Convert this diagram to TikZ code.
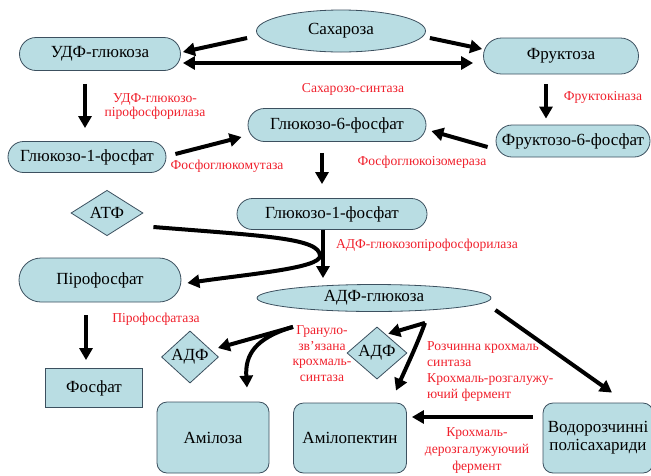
\documentclass[tikz,border=0pt]{standalone}
\usepackage{fontspec}
\setmainfont{Liberation Serif}
\newfontfamily\tnr{Liberation Serif}
\usetikzlibrary{arrows.meta,shapes.geometric,shapes.misc,calc}
\definecolor{nfill}{RGB}{185,221,227}
\definecolor{nline}{RGB}{60,80,95}
\definecolor{lred}{RGB}{240,32,44}
\begin{document}
\begin{tikzpicture}[x=1pt,y=-1pt,
  box/.style={draw=nline,fill=nfill,line width=0.8pt,font=\tnr\fontsize{17}{18}\selectfont,inner sep=0pt},
  pill/.style={box,rounded rectangle},
  oval/.style={box,ellipse},
  dia/.style={box,diamond},
  rbox/.style={box,rectangle,rounded corners=10pt},
  lab/.style={text=lred,font=\tnr\fontsize{13.6}{15.5}\selectfont,inner sep=0pt,align=center},
  arr/.style={line width=4pt,-{Triangle[length=12pt,width=13pt]}},
  arrb/.style={line width=4pt,{Triangle[length=12pt,width=13pt]}-{Triangle[length=12pt,width=13pt]}},
]
\useasboundingbox (0,0) rectangle (651,475);
\clip (0,0) rectangle (651,475);

% nodes
\node[oval,minimum width=169pt,minimum height=42pt] (sah) at (341,31) {Сахароза};
\node[pill,minimum width=161pt,minimum height=33pt] (udf) at (100,54) {УДФ-глюкоза};
\node[pill,minimum width=155pt,minimum height=36pt] (fr) at (561,56) {Фруктоза};
\node[pill,minimum width=158pt,minimum height=31pt] (g1l) at (87,157) {Глюкозо-1-фосфат};
\node[pill,minimum width=178pt,minimum height=33pt] (g6) at (337,125) {Глюкозо-6-фосфат};
\node[pill,minimum width=154pt,minimum height=32pt] (f6) at (573,141) {Фруктозо-6-фосфат};
\node[pill,minimum width=190pt,minimum height=31pt] (g1c) at (332,214) {Глюкозо-1-фосфат};
\node[dia,minimum width=72pt,minimum height=40pt] (atf) at (107,213) {АТФ};
\node[pill,minimum width=162pt,minimum height=44pt] (pir) at (100,280) {Пірофосфат};
\node[oval,minimum width=234pt,minimum height=27pt] (adfg) at (374,298) {АДФ-глюкоза};
\node[box,rectangle,minimum width=97pt,minimum height=39pt] (fos) at (94,388) {Фосфат};
\node[dia,minimum width=57pt,minimum height=40pt] (adfl) at (190,357) {АДФ};
\node[dia,minimum width=60pt,minimum height=40pt] (adfc) at (377,353) {АДФ};
\node[rbox,minimum width=112pt,minimum height=71pt] (amil) at (213,437.5) {Амілоза};
\node[rbox,minimum width=113pt,minimum height=70pt] (amp) at (350,438) {Амілопектин};
\node[rbox,minimum width=110pt,minimum height=70pt,align=center] (vod) at (598,438) {Водорозчинні\\полісахариди};

% labels
\node[lab] (lsah) at (353,89) {Сахарозо-синтаза};
\node[lab,font=\tnr\fontsize{13.6}{13.5}\selectfont] (ludf) at (155,106.5) {УДФ-глюкозо-\\пірофосфорилаза};
\node[lab] (lfgm) at (227,166) {Фосфоглюкомутаза};
\node[lab] (lfrk) at (603,97) {Фруктокіназа};
\node[lab] (lfgi) at (422,162) {Фосфоглюкоізомераза};
\node[lab] (ladf) at (427,245) {АДФ-глюкозопірофосфорилаза};
\node[lab] (lpir) at (156,319) {Пірофосфатаза};
\node[lab,font=\tnr\fontsize{13.6}{15.7}\selectfont] (lgran) at (322,353.5) {Грануло-\\зв’язана\\крохмаль-\\синтаза};
\node[lab,align=left,anchor=west,font=\tnr\fontsize{13.6}{16}\selectfont] (lroz) at (427,371) {Розчинна крохмаль\\синтаза\\Крохмаль-розгалужу-\\ючий фермент};
\node[lab,font=\tnr\fontsize{13.6}{17}\selectfont] (lkrd) at (477,450) {Крохмаль-\\дерозгалужуючий\\фермент};

% helper coordinates
\coordinate (jn) at (320,256);
\coordinate (g0) at ($(adfg.south)+(-81,15)$);
\coordinate (g1) at ($(adfg.south)+(51,11)$);

% connectors
\draw[arr] ([shift={(-9,7)}]sah.west) -- ([shift={(2,-2)}]udf.east);
\draw[arr] ([shift={(4,7)}]sah.east) -- ([shift={(-1,-7)}]fr.west);
\draw[arrb] ([shift={(2,9)}]udf.east) -- ([shift={(-10,7)}]fr.west);
\draw[arr] ([shift={(-15,13)}]udf.south) -- ([shift={(-2,-13)}]g1l.north);
\draw[arr] ([shift={(9,-3)}]g1l.east) -- ([shift={(-6,12)}]g6.west);
\draw[arr] ([shift={(-15,10)}]fr.south) -- ([shift={(-27,-6)}]f6.north);
\draw[arr] ([shift={(-8,6)}]f6.west) -- ([shift={(5,6)}]g6.east);
\draw[arr] ([shift={(-15,11)}]g6.south) -- ([shift={(-10,-14)}]g1c.north);
\draw[arr] ([shift={(-9,0)}]g1c.south) -- ([shift={(-51,-6)}]adfg.north);
\draw[arr] ([shift={(10,14)}]atf.east) .. controls (265,236) and (320,238) .. (jn)
  .. controls (320,268) and (250,274) .. ([shift={(6,3)}]pir.east);
\draw[arr] ([shift={(-14,13)}]pir.south) -- ([shift={(-8,-8)}]fos.north);
\draw[arr] (g0) -- ([shift={(-1,-9)}]adfl.east);
\draw[arr] (g0) .. controls (255,338) and (245,355) .. ([shift={(34,-14)}]amil.north);
\draw[arr] (g1) -- ([shift={(-4,-6)}]adfc.north east);
\draw[arr] (g1) .. controls (417,345) and (405,370) .. ([shift={(46,-12)}]amp.north);
\draw[arr] ([shift={(4,12)}]adfg.east) -- ([shift={(14,-10)}]vod.north);
\draw[arr] ([shift={(-10,-21)}]vod.west) -- ([shift={(5,-21)}]amp.east);
\end{tikzpicture}
\end{document}
